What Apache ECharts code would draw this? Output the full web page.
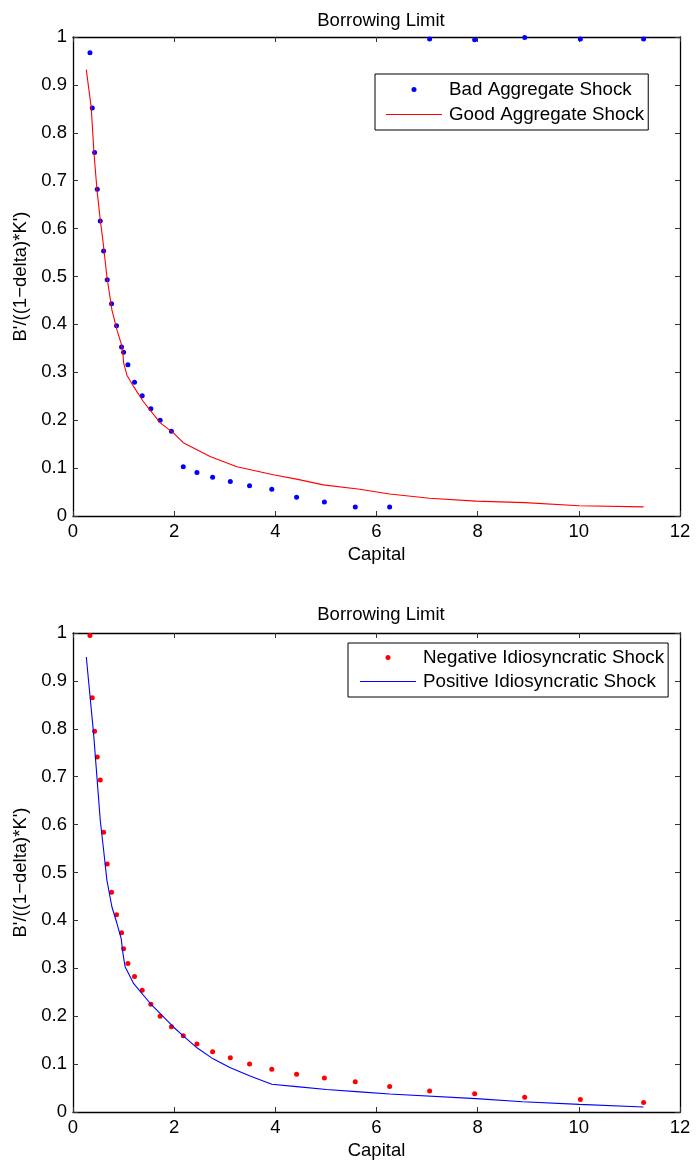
<!DOCTYPE html>
<html>
<head>
<meta charset="utf-8">
<script src="https://cdn.jsdelivr.net/npm/echarts@6/dist/echarts.min.js"></script>
<style>
html,body{margin:0;padding:0;background:#fff;}
#chart{width:696px;height:1164px;}
</style>
</head>
<body>
<div id="chart"></div>
<script>
// ---- data ----
const chartTitle = "Borrowing Limit";
const xAxisName = "Capital";
const yAxisName = "B'/((1\u2212delta)*K')";
const xTicks = [0, 2, 4, 6, 8, 10, 12];
const yTicks = [0, 0.1, 0.2, 0.3, 0.4, 0.5, 0.6, 0.7, 0.8, 0.9, 1];

// capital grid of the dotted series
const capitalGrid = [0.335, 0.381, 0.427, 0.48, 0.539, 0.605, 0.677, 0.762, 0.861, 0.96, 1.0, 1.085, 1.216, 1.368, 1.539, 1.723, 1.946, 2.18, 2.45, 2.76, 3.11, 3.49, 3.93, 4.42, 4.97, 5.58, 6.26, 7.05, 7.94, 8.93, 10.03, 11.28];

// top panel
const badAggregate = [0.967, 0.852, 0.759, 0.682, 0.616, 0.553, 0.493, 0.443, 0.397, 0.353, 0.342, 0.316, 0.279, 0.251, 0.224, 0.2, 0.177, 0.103, 0.091, 0.081, 0.072, 0.063, 0.056, 0.039, 0.029, 0.019, 0.019, 0.996, 0.994, 0.999, 0.996, 0.996];
const goodAggregateX = [0.263, 0.361, 0.414, 0.473, 0.539, 0.59, 0.67, 0.77, 0.87, 0.953, 0.987, 1.0, 1.066, 1.2, 1.39, 1.72, 1.99, 2.18, 2.71, 3.24, 3.96, 4.42, 4.95, 5.67, 6.26, 7.05, 7.97, 8.93, 10.01, 11.28];
const goodAggregateY = [0.932, 0.852, 0.759, 0.682, 0.618, 0.576, 0.5, 0.43, 0.388, 0.36, 0.34, 0.32, 0.294, 0.27, 0.239, 0.195, 0.173, 0.153, 0.124, 0.103, 0.086, 0.077, 0.065, 0.056, 0.046, 0.037, 0.031, 0.028, 0.0215, 0.019];

// bottom panel
const negativeIdio = [0.995, 0.865, 0.795, 0.741, 0.693, 0.584, 0.518, 0.459, 0.412, 0.374, 0.341, 0.31, 0.283, 0.254, 0.225, 0.2, 0.178, 0.159, 0.142, 0.126, 0.113, 0.1, 0.089, 0.079, 0.071, 0.063, 0.053, 0.044, 0.038, 0.031, 0.026, 0.02];
const positiveIdioX = [0.263, 0.407, 0.539, 0.605, 0.67, 0.77, 0.868, 0.953, 0.987, 1.03, 1.2, 1.525, 1.99, 2.18, 2.45, 2.77, 3.1, 3.5, 3.93, 4.42, 5.01, 5.67, 6.26, 7.97, 8.89, 10.01, 11.28];
const positiveIdioY = [0.95, 0.79, 0.609, 0.547, 0.484, 0.428, 0.394, 0.362, 0.331, 0.303, 0.268, 0.227, 0.177, 0.159, 0.134, 0.111, 0.093, 0.075, 0.058, 0.053, 0.047, 0.042, 0.0376, 0.028, 0.0215, 0.016, 0.0104];

const seriesNames = ["Bad Aggregate Shock", "Good Aggregate Shock", "Negative Idiosyncratic Shock", "Positive Idiosyncratic Shock"];

// ---- build ----
const FONT = "'Liberation Sans', Arial, Helvetica, sans-serif";
const FS = 18.5;
const LFS = 18.8;
const pair = (xs, ys) => xs.map((x, i) => [x, ys[i]]);

function fmtY(v) { return String(Math.round(v * 10) / 10); }

function xAxisPair(gi) {
  const base = {
    gridIndex: gi, type: 'value', min: 0, max: 12, interval: 2,
    axisLine: { show: true, onZero: false, lineStyle: { color: '#000', width: 1.3 } },
    axisTick: { show: true, inside: true, length: 5, lineStyle: { color: '#333', width: 1 } },
    splitLine: { show: false }
  };
  return [
    Object.assign({}, base, {
      position: 'bottom',
      name: xAxisName, nameLocation: 'middle', nameGap: 29,
      nameTextStyle: { fontFamily: FONT, fontSize: FS, color: '#000' },
      axisLabel: { show: true, margin: 6, fontFamily: FONT, fontSize: FS, color: '#000' }
    }),
    Object.assign({}, base, { position: 'top', axisLabel: { show: false } })
  ];
}
function yAxisPair(gi) {
  const base = {
    gridIndex: gi, type: 'value', min: 0, max: 1, interval: 0.1,
    axisLine: { show: true, onZero: false, lineStyle: { color: '#000', width: 1.3 } },
    axisTick: { show: true, inside: true, length: 5, lineStyle: { color: '#333', width: 1 } },
    splitLine: { show: false }
  };
  return [
    Object.assign({}, base, {
      position: 'left',
      name: yAxisName, nameLocation: 'middle', nameGap: 41, nameRotate: 90,
      nameTextStyle: { fontFamily: FONT, fontSize: FS, color: '#000' },
      axisLabel: { show: true, margin: 6, fontFamily: FONT, fontSize: FS, color: '#000', formatter: fmtY }
    }),
    Object.assign({}, base, { position: 'right', axisLabel: { show: false } })
  ];
}

const LINE_ICON = 'path://M0,0 L56,0 L56,1 L0,1 Z';

const legendBase = {
  orient: 'vertical', align: 'left', itemWidth: 56, itemHeight: 5,
  borderColor: '#000', borderWidth: 1, backgroundColor: '#fff',
  selectedMode: false,
  textStyle: { fontFamily: FONT, fontSize: LFS, color: '#000', lineHeight: 18, padding: [0, 0, 0, 2] }
};

const option = {
  backgroundColor: '#fff',
  animation: false,
  title: [
    { text: chartTitle, left: 376, top: 6, textAlign: 'center',
      textStyle: { fontFamily: FONT, fontSize: FS, fontWeight: 'normal', color: '#000' } },
    { text: chartTitle, left: 376, top: 600, textAlign: 'center',
      textStyle: { fontFamily: FONT, fontSize: FS, fontWeight: 'normal', color: '#000' } }
  ],
  grid: [
    { left: 73, right: 16, top: 37, height: 479 },
    { left: 73, right: 16, top: 633, height: 479 }
  ],
  xAxis: [...xAxisPair(0), ...xAxisPair(1)],
  yAxis: [...yAxisPair(0), ...yAxisPair(1)],
  legend: [
    Object.assign({}, legendBase, {
      left: 375, top: 74, padding: [6, 4, 6, 11], itemGap: 6,
      data: [
        { name: seriesNames[0], icon: 'circle' },
        { name: seriesNames[1], icon: LINE_ICON, itemStyle: { color: '#ff0000' } }
      ]
    }),
    Object.assign({}, legendBase, {
      left: 348, top: 643, padding: [5, 4, 6, 12], itemGap: 5,
      data: [
        { name: seriesNames[2], icon: 'circle' },
        { name: seriesNames[3], icon: LINE_ICON, itemStyle: { color: '#0000ff' } }
      ]
    })
  ],
  series: [
    { name: seriesNames[0], type: 'scatter', xAxisIndex: 0, yAxisIndex: 0,
      symbol: 'circle', symbolSize: 5, itemStyle: { color: '#0000ff', opacity: 1 }, clip: false,
      data: pair(capitalGrid, badAggregate) },
    { name: seriesNames[1], type: 'line', xAxisIndex: 0, yAxisIndex: 0,
      symbol: 'none', lineStyle: { color: '#ff0000', width: 1.1 }, itemStyle: { color: '#ff0000' },
      data: pair(goodAggregateX, goodAggregateY) },
    { name: seriesNames[2], type: 'scatter', xAxisIndex: 2, yAxisIndex: 2,
      symbol: 'circle', symbolSize: 5, itemStyle: { color: '#ff0000', opacity: 1 }, clip: false,
      data: pair(capitalGrid, negativeIdio) },
    { name: seriesNames[3], type: 'line', xAxisIndex: 2, yAxisIndex: 2,
      symbol: 'none', lineStyle: { color: '#0000ff', width: 1.1 }, itemStyle: { color: '#0000ff' },
      data: pair(positiveIdioX, positiveIdioY) }
  ]
};

const chart = echarts.init(document.getElementById('chart'), null, { renderer: 'canvas' });
chart.setOption(option);
</script>
</body>
</html>
